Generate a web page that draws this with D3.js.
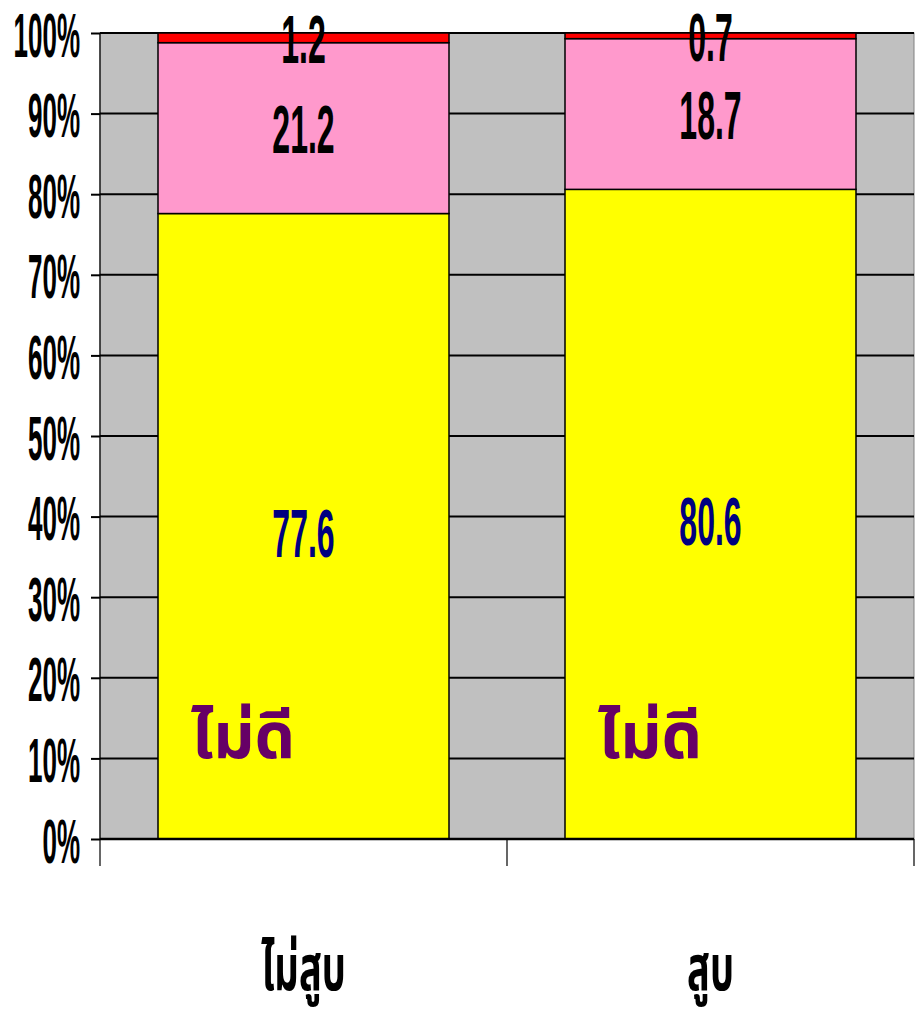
<!DOCTYPE html>
<html>
<head>
<meta charset="utf-8">
<script src="https://cdn.jsdelivr.net/npm/d3@7"></script>
<style>
  body { margin: 0; background: #fff; }
  text.num { font-family: "Liberation Sans Narrow", "Arial Narrow", sans-serif; font-weight: bold; }
</style>
</head>
<body>
<div id="chart"></div>
<script>
// data
const categories = ["ไม่สูบ", "สูบ"];
const seriesNames = ["ไม่ดี", "ปานกลาง", "ดี"];
const yellowVals = [77.6, 80.6];
const pinkVals = [21.2, 18.7];
const redVals = [1.2, 0.7];
const yTicks = [0, 10, 20, 30, 40, 50, 60, 70, 80, 90, 100];
const colors = ["#ffff00", "#ff99cc", "#ff0000"];
const labelColors = ["#000080", "#000000", "#000000"];

const width = 918, height = 1012;
const margin = {top: 33, right: 4, bottom: 173, left: 100};

const svg = d3.select("#chart").append("svg")
  .attr("width", width).attr("height", height);

const x = d3.scaleBand().domain(categories)
  .range([margin.left, width - margin.right]);
const y = d3.scaleLinear().domain([0, 100])
  .range([height - margin.bottom, margin.top]);

const barW = x.bandwidth() * 0.715;

// plot background
svg.append("rect")
  .attr("x", margin.left).attr("y", y(100))
  .attr("width", x.range()[1] - margin.left).attr("height", y(0) - y(100))
  .attr("fill", "#c0c0c0").attr("stroke", "#808080").attr("stroke-width", 1);

// gridlines
svg.append("g").selectAll("line")
  .data(yTicks.filter(d => d > 0))
  .enter().append("line")
  .attr("x1", margin.left).attr("x2", x.range()[1])
  .attr("y1", d => y(d)).attr("y2", d => y(d))
  .attr("stroke", "#000").attr("stroke-width", 2);

// stacked data
const rows = categories.map((c, i) => ({cat: c, yellow: yellowVals[i], pink: pinkVals[i], red: redVals[i]}));
const stack = d3.stack().keys(["yellow", "pink", "red"]);
const layers = stack(rows);

layers.forEach((layer, li) => {
  svg.append("g").selectAll("rect")
    .data(layer)
    .enter().append("rect")
    .attr("x", d => x(d.data.cat) + (x.bandwidth() - barW) / 2)
    .attr("width", barW)
    .attr("y", d => y(d[1]))
    .attr("height", d => y(d[0]) - y(d[1]))
    .attr("fill", colors[li])
    .attr("stroke", "#000").attr("stroke-width", 1.5);
});

// segment value labels (tall condensed look)
layers.forEach((layer, li) => {
  svg.append("g").selectAll("text")
    .data(layer)
    .enter().append("text")
    .attr("class", "num")
    .attr("text-anchor", "middle")
    .attr("fill", labelColors[li])
    .attr("font-size", 32)
    .attr("transform", d => {
      const cx = x(d.data.cat) + x.bandwidth() / 2;
      const cy = (y(d[0]) + y(d[1])) / 2 + (li === 0 ? 6 : 0);
      return `translate(${cx},${cy + 25}) scale(1,2.15)`;
    })
    .text(d => (d[1] - d[0]).toFixed(1));
});

// series label inside yellow bars
svg.append("g").selectAll("text")
  .data(categories)
  .enter().append("text")
  .attr("x", d => x(d) + (x.bandwidth() - barW) / 2 + 33)
  .attr("y", y(10))
  .attr("fill", "#660066")
  .attr("font-size", 64)
  .attr("font-weight", "bold")
  .attr("font-family", "'Noto Sans Thai', Loma, Garuda, sans-serif")
  .text(seriesNames[0]);

// y axis
const yAxis = d3.axisLeft(y).tickValues(yTicks).tickSize(9).tickFormat(d => d + "%");
const gy = svg.append("g").attr("transform", `translate(${margin.left},0)`).call(yAxis);
gy.select(".domain").remove();
gy.selectAll(".tick line").attr("stroke", "#000").attr("stroke-width", 2);
gy.selectAll(".tick text")
  .attr("class", "num")
  .attr("fill", "#000")
  .attr("font-size", 26)
  .attr("x", 0).attr("dy", null)
  .attr("transform", "translate(-20,23) scale(1,2.4)");

// left axis line
svg.append("line")
  .attr("x1", margin.left).attr("x2", margin.left)
  .attr("y1", y(100)).attr("y2", y(0) + 27)
  .attr("stroke", "#000").attr("stroke-width", 1.2);

// x axis baseline and category ticks
svg.append("line")
  .attr("x1", margin.left).attr("x2", x.range()[1])
  .attr("y1", y(0)).attr("y2", y(0))
  .attr("stroke", "#000").attr("stroke-width", 2.5);
svg.append("g").selectAll("line")
  .data(categories.map(c => x(c) + x.bandwidth()))
  .enter().append("line")
  .attr("x1", d => d).attr("x2", d => d)
  .attr("y1", y(0)).attr("y2", y(0) + 27)
  .attr("stroke", "#000").attr("stroke-width", 1.2);

// category labels
svg.append("g").selectAll("text")
  .data(categories)
  .enter().append("text")
  .attr("text-anchor", "middle")
  .attr("font-size", 40)
  .attr("font-weight", "bold")
  .attr("font-family", "'Noto Sans Thai', Loma, Garuda, sans-serif")
  .attr("transform", d => `translate(${x(d) + x.bandwidth() / 2},990) scale(0.95,1.6)`)
  .text(d => d);
</script>
</body>
</html>
